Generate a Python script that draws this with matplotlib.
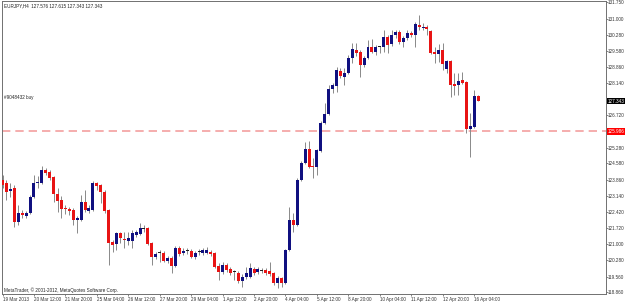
import matplotlib
matplotlib.use("Agg")
import matplotlib.pyplot as plt
import numpy as np

# ---- data (EURJPY H4) ----
opens = [123.84,123.71,123.35,123.49,121.98,122.38,122.24,122.38,123.09,123.71,
         123.71,124.28,124.20,123.97,123.22,122.95,122.57,122.55,122.51,122.07,
         122.07,122.87,122.47,122.51,123.71,123.62,123.31,122.51,121.09,121.00,
         121.49,121.19,121.14,121.14,121.40,121.45,121.67,121.71,121.05,120.43,
         120.61,120.60,120.25,120.38,120.03,120.82,120.60,120.70,120.69,120.43,
         120.66,120.60,120.60,120.65,120.60,120.03,119.76,120.07,119.89,119.77,
         119.72,119.36,119.54,119.54,119.89,119.76,119.81,119.85,119.80,119.72,
         119.27,119.49,119.27,120.74,122.07,121.85,123.84,124.60,125.22,124.46,
         124.42,125.13,126.37,126.77,127.88,128.01,128.68,128.41,128.59,129.25,
         129.61,129.52,128.94,129.25,129.74,129.52,129.75,129.74,130.19,129.87,
         130.27,130.41,129.96,130.14,130.36,130.27,130.72,130.58,130.63,130.45,
         129.52,129.43,129.61,128.76,129.12,128.10,128.06,128.28,128.19,126.10,
         126.19,127.576]
highs = [124.06,123.84,123.71,123.62,122.73,122.51,122.47,123.18,124.06,124.02,
         124.46,124.37,124.28,124.02,123.49,123.13,122.73,122.64,122.60,122.24,
         123.18,123.40,122.73,123.80,123.75,123.66,123.40,122.55,121.18,121.53,
         121.53,121.53,121.53,121.62,121.62,121.93,121.85,121.76,121.09,120.65,
         120.74,120.69,120.47,120.47,120.91,120.91,120.82,120.82,120.78,120.69,
         120.78,120.82,120.87,120.74,120.65,120.16,120.20,120.16,119.98,119.85,
         119.80,119.67,119.98,120.16,119.98,119.98,119.94,119.94,120.20,119.76,
         119.58,119.54,120.78,122.64,122.38,123.93,124.68,125.53,125.57,124.82,
         125.22,126.46,127.26,128.06,128.14,128.85,128.81,128.81,129.39,129.92,
         129.92,129.61,129.34,130.05,130.10,129.83,129.79,130.50,130.27,130.50,
         130.50,130.50,130.23,130.50,130.45,130.85,131.16,130.81,130.72,130.50,
         129.74,129.87,129.92,129.16,129.16,128.59,128.59,128.63,128.23,126.81,
         127.83,127.615]
lows = [123.49,122.95,123.09,121.76,121.85,122.16,122.16,122.33,123.04,123.49,
        123.66,124.06,123.84,122.87,122.42,122.16,122.33,122.29,121.85,121.49,
        122.02,122.42,122.38,122.47,123.40,122.82,122.38,120.07,120.65,120.74,
        121.05,120.82,120.96,120.82,121.31,121.40,121.53,120.96,120.07,120.34,
        120.20,120.20,120.16,119.72,119.98,120.47,120.51,120.56,120.38,120.34,
        120.51,120.51,120.56,120.47,119.94,119.41,119.67,119.76,119.63,119.41,
        119.27,119.09,119.45,119.49,119.63,119.67,119.72,119.63,119.58,119.18,
        119.05,119.09,119.23,120.69,121.53,121.80,123.80,124.55,124.37,123.93,
        124.06,125.08,126.33,126.72,127.70,127.74,128.37,128.06,128.54,129.03,
        129.34,128.41,128.85,129.21,129.48,129.39,129.48,129.52,129.48,129.79,
        130.14,129.87,129.74,130.05,130.19,129.74,130.50,130.50,130.27,129.43,
        129.03,129.08,128.72,128.59,127.52,127.61,127.61,128.10,125.93,124.86,
        126.15,127.343]
closes = [123.62,123.31,123.44,121.98,122.38,122.29,122.38,123.09,123.71,123.75,
          124.28,124.15,123.93,123.22,122.91,122.55,122.55,122.47,122.07,122.16,
          122.87,122.51,122.60,123.71,123.58,123.31,122.47,121.05,120.96,121.49,
          121.27,121.17,121.27,121.49,121.53,121.71,121.68,121.00,120.43,120.56,
          120.60,120.25,120.38,120.03,120.82,120.56,120.69,120.69,120.43,120.60,
          120.65,120.74,120.74,120.56,119.98,119.76,120.07,119.85,119.72,119.76,
          119.36,119.54,119.72,119.94,119.72,119.89,119.80,119.72,119.67,119.27,
          119.49,119.27,120.74,122.07,121.85,123.84,124.60,125.22,124.42,124.42,
          125.17,126.37,126.77,127.88,128.06,128.72,128.45,128.59,129.25,129.65,
          129.48,128.94,129.25,129.74,129.52,129.74,129.74,130.19,129.83,130.27,
          130.41,129.96,130.14,130.36,130.27,130.76,130.63,130.63,130.54,129.48,
          129.43,129.61,128.99,129.12,128.06,128.01,128.23,128.14,126.10,126.24,
          127.57,127.343]

xtick_labels = ["19 Mar 2013", "20 Mar 12:00", "21 Mar 20:00", "25 Mar 04:00",
                "26 Mar 12:00", "27 Mar 20:00", "29 Mar 04:00", "1 Apr 12:00",
                "2 Apr 20:00", "4 Apr 04:00", "5 Apr 12:00", "8 Apr 20:00",
                "10 Apr 04:00", "11 Apr 12:00", "12 Apr 20:00", "16 Apr 04:00"]
ytick_values = [118.86, 119.56, 120.28, 121.00, 121.72, 122.42, 123.14, 123.86,
                124.58, 125.28, 126.72, 128.14, 128.86, 129.58, 130.28, 131.00, 131.75]
order_price = 126.00
order_label = "125.986"
current_price = 127.343
header = "EURJPY,H4  127.576 127.615 127.343 127.343"
order_text = "#9048432 buy"
copyright_text = "MetaTrader, \u00a9 2001-2012, MetaQuotes Software Corp."

# ---- styling ----
W, H = 625, 303
BULL = "#101080"
BEAR = "#e81414"
WICK = "#8c8c8c"
DOJI = "#202020"
AXC = "#707070"
FONT = "Liberation Sans"
FS = 3.3

fig = plt.figure(figsize=(W / 100, H / 100), dpi=100)
fig.patch.set_facecolor("white")
ax = fig.add_axes([2 / W, 9 / H, 604 / W, 293 / H])
ax.set_facecolor("white")

o = np.array(opens); h = np.array(highs); l = np.array(lows); c = np.array(closes)
x = np.arange(len(o))

ax.vlines(x, l, h, color=WICK, linewidth=0.72, zorder=2)
bull = c > o + 0.015
bear = c < o - 0.015
doji = ~(bull | bear)
mh = 0.045
for mask, col in ((bull, BULL), (bear, BEAR), (doji, DOJI)):
    bottoms = np.minimum(o, c)[mask]
    heights = np.maximum(np.abs(c - o)[mask], mh)
    ax.bar(x[mask], heights, bottom=bottoms, width=0.76, color=col,
           linewidth=0, zorder=3)

# order line
ax.axhline(order_price, color="#f4a0a0", linewidth=1.2, dashes=(5, 3), zorder=1)

ax.set_xlim(-0.13, 153.56)
ax.set_ylim(118.784, 131.782)

ax.yaxis.tick_right()
ax.set_yticks(ytick_values)
ax.set_yticklabels([f"{v:.3f}" for v in ytick_values], fontsize=FS, family=FONT, color="#333333")
ax.tick_params(axis="y", length=1.2, width=0.6, color=AXC, pad=0.3)

ax.set_xticks(np.arange(0, 8 * len(xtick_labels), 8))
ax.set_xticklabels(xtick_labels, fontsize=FS, family=FONT, color="#333333", ha="left")
ax.tick_params(axis="x", length=1.5, width=0.6, color=AXC, pad=0.6)

for s in ax.spines.values():
    s.set_color(AXC)
    s.set_linewidth(0.7)

bbox_kw = dict(boxstyle="square,pad=0.15", linewidth=0)
ax.text(1.0025, current_price, f"{current_price:.3f}", transform=ax.get_yaxis_transform(),
        fontsize=FS, family=FONT, color="white", va="center", ha="left",
        bbox=dict(facecolor="black", **bbox_kw), zorder=5, clip_on=False)
ax.text(1.0025, order_price, order_label, transform=ax.get_yaxis_transform(),
        fontsize=FS, family=FONT, color="white", va="center", ha="left",
        bbox=dict(facecolor="#ff0000", **bbox_kw), zorder=5, clip_on=False)

fig.text(4 / W, 1 - 5.5 / H, header, fontsize=FS, family=FONT, color="#222222", va="center")
fig.text(4 / W, 1 - 97 / H, order_text, fontsize=FS, family=FONT, color="#222222", va="center")
fig.text(4 / W, 1 - 290 / H, copyright_text, fontsize=FS, family=FONT, color="#222222", va="center")

fig.savefig("out.png", dpi=100, facecolor="white")
